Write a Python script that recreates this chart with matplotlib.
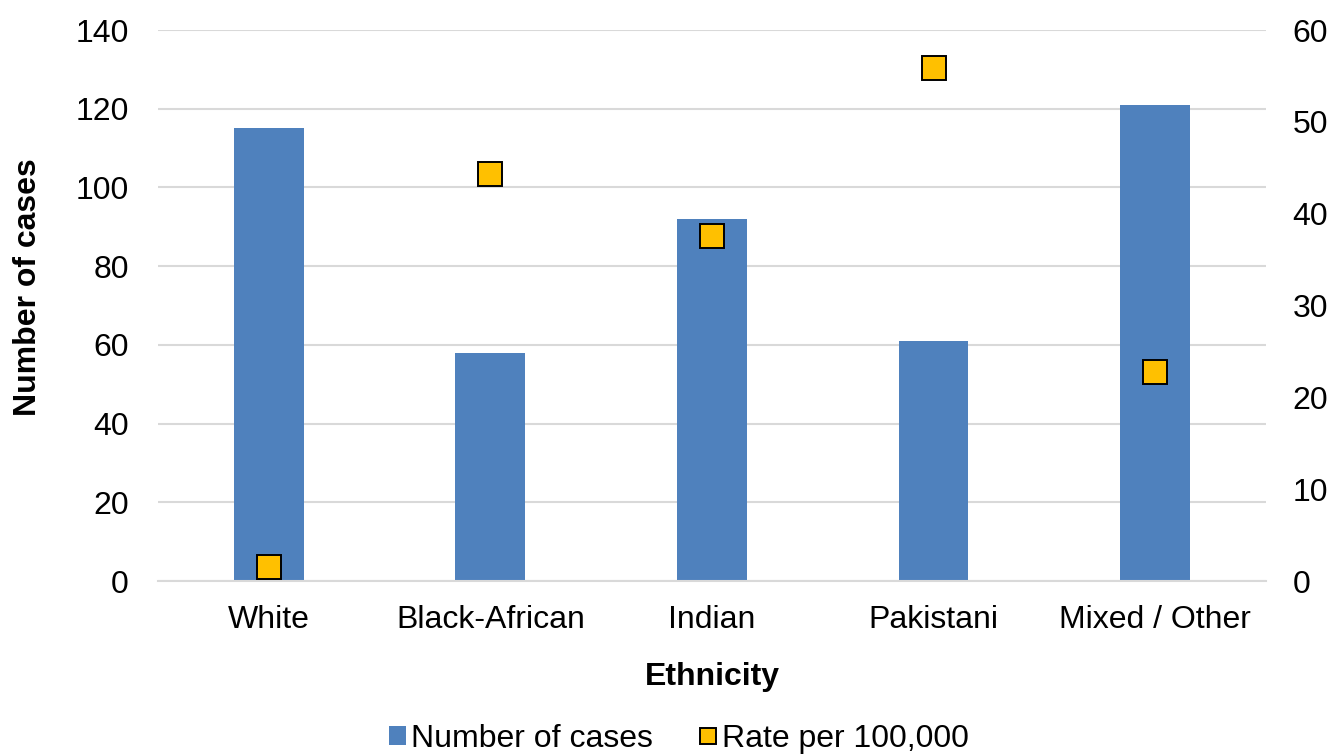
import matplotlib
matplotlib.use("Agg")
import matplotlib.pyplot as plt
from matplotlib.lines import Line2D
from matplotlib.patches import Patch
import numpy as np

plt.rcParams['font.family'] = ['Liberation Sans', 'DejaVu Sans']

ethnicity = ["White", "Black-African", "Indian", "Pakistani", "Mixed / Other"]
cases = [115, 58, 92, 61, 121]
rate = [1.5, 44.3, 37.6, 55.9, 22.8]

bar_col = "#4f81bd"
dot_col = "#ffc000"
grid_col = "#d9d9d9"
fs = 23

fig = plt.figure(figsize=(13.33, 7.54), dpi=100)
ax = fig.add_axes([0.1185, 0.2294, 0.8312, 0.7308])
ax2 = ax.twinx()

x = np.arange(len(ethnicity))
ax.bar(x, cases, width=0.315, color=bar_col, zorder=2)
ax2.plot(x, rate, linestyle="none", marker="s", markersize=17.5,
         markerfacecolor=dot_col, markeredgecolor="black", markeredgewidth=1.4, zorder=3)

ax.set_xlim(-0.5, 4.5)
ax.set_ylim(0, 140)
ax2.set_ylim(0, 60)
ax.set_yticks(range(0, 141, 20))
ax2.set_yticks(range(0, 61, 10))
ax.set_xticks(x)
ax.set_xticklabels(ethnicity)

ax.yaxis.grid(True, color=grid_col, linewidth=1.5, zorder=0)
ax.set_axisbelow(True)
for a in (ax, ax2):
    for s in a.spines.values():
        s.set_visible(False)
    a.tick_params(length=0, labelsize=fs, colors="black")
ax.tick_params(axis="y", pad=21)
ax2.tick_params(axis="y", pad=19)
ax.tick_params(axis="x", pad=17)
ax.spines["bottom"].set_visible(True)
ax.spines["bottom"].set_color(grid_col)
ax.spines["bottom"].set_linewidth(1.5)

ax.set_ylabel("Number of cases", fontsize=fs, fontweight="bold")
ax.yaxis.set_label_coords(-0.104, 0.534)
ax.set_xlabel("Ethnicity", fontsize=fs, fontweight="bold", labelpad=20)

handles = [
    Patch(facecolor=bar_col, label="Number of cases"),
    Line2D([], [], linestyle="none", marker="s", markersize=11.5, markerfacecolor=dot_col,
           markeredgecolor="black", markeredgewidth=1.4, label="Rate per 100,000"),
]
fig.legend(handles=handles, loc="lower center", bbox_to_anchor=(0.509, -0.038), ncol=2,
           frameon=False, fontsize=fs, handlelength=0.55, handleheight=0.55,
           handletextpad=0.15, columnspacing=1.45)

fig.savefig("out.png", dpi=100)
